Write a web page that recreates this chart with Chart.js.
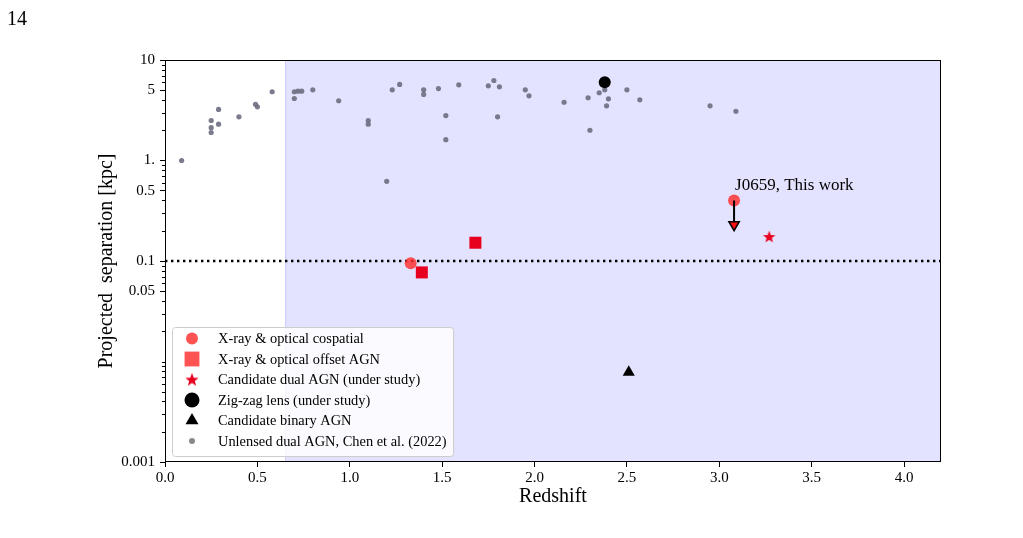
<!DOCTYPE html>
<html lang="en">
<head>
<meta charset="UTF-8">
<title>Projected separation vs redshift</title>
<style>
    body { margin: 0; background: #fff; }
    #wrap { position: relative; width: 1023px; height: 538px; }
    #wrap canvas { position: absolute; left: 0; top: 0; }
    #pageNo { position: absolute; left: 7px; top: 7px; font: 20px 'Liberation Serif', 'DejaVu Serif', serif; color: #000; }
</style>
</head>
<body>
<div id="wrap">
    <canvas id="myChart" width="1023" height="538"></canvas>
    <div id="pageNo">14</div>
</div>
<script src="https://cdn.jsdelivr.net/npm/chart.js"></script>
<script>
// Unlensed dual AGN (Chen et al. 2022)
var unlensedZ = [0.09, 0.25, 0.25, 0.25, 0.29, 0.29, 0.40, 0.49, 0.50, 0.58,
                 0.70, 0.72, 0.74, 0.70, 0.80, 0.94, 1.10, 1.10, 1.20, 1.23,
                 1.27, 1.40, 1.40, 1.48, 1.52, 1.52, 1.59, 1.75, 1.78, 1.81,
                 1.80, 1.95, 1.97, 2.16, 2.29, 2.30, 2.35, 2.38, 2.40, 2.39,
                 2.50, 2.57, 2.95, 3.09];
var unlensedSep = [1.0, 2.50, 2.12, 1.90, 3.22, 2.30, 2.72, 3.63, 3.42, 4.83,
                   4.83, 4.89, 4.89, 4.14, 5.05, 3.93, 2.50, 2.30, 0.62, 5.05,
                   5.71, 5.05, 4.54, 5.20, 2.80, 1.61, 5.66, 5.53, 6.25, 5.41,
                   2.72, 5.05, 4.40, 3.80, 4.21, 2.00, 4.72, 5.05, 4.11, 3.50,
                   5.05, 4.02, 3.50, 3.09];

var cospatialZ = [1.33, 3.08];
var cospatialSep = [0.095, 0.40];
var offsetZ = [1.39, 1.68];
var offsetSep = [0.077, 0.152];
var candidateZ = [3.27];
var candidateSep = [0.175];
var zigzagZ = [2.38];
var zigzagSep = [6.0];
var binaryZ = [2.51];
var binarySep = [0.0078];

// upper limit arrow for J0659
var limitZ = [3.08, 3.08];
var limitSep = [0.40, 0.25];
var limitHeadSep = [0.23];
var annotText = 'J0659, This work';
var annotZ = 3.08;
var annotSep = 0.56;

var thresholdSep = 0.1;
var lensedZmin = 0.65;

var xTickValues = [0, 0.5, 1.0, 1.5, 2.0, 2.5, 3.0, 3.5, 4.0];
var yTickValues = [10, 5, 1, 0.5, 0.1, 0.05, 0.001];
var yTickLabels = ['10', '5', '1.', '0.5', '0.1', '0.05', '0.001'];

var legendLabels = ['X-ray & optical cospatial', 'X-ray & optical offset AGN',
    'Candidate dual AGN (under study)', 'Zig-zag lens (under study)',
    'Candidate binary AGN', 'Unlensed dual AGN, Chen et al. (2022)'];

function pts(xs, ys) {
    return xs.map(function (x, i) { return {x: x, y: ys[i]}; });
}

function yLabel(v) {
    for (var i = 0; i < yTickValues.length; i++) {
        if (Math.abs(v / yTickValues[i] - 1) < 1e-6) return yTickLabels[i];
    }
    return '';
}

// filled five point star as a point image
function makeStar(r, color) {
    var c = document.createElement('canvas');
    var s = Math.ceil(r * 2 + 2);
    c.width = s; c.height = s;
    var g = c.getContext('2d');
    g.beginPath();
    for (var i = 0; i < 10; i++) {
        var rr = i % 2 === 0 ? r : r * 0.42;
        var a = -Math.PI / 2 + i * Math.PI / 5;
        g.lineTo(s / 2 + rr * Math.cos(a), s / 2 + 0.6 + rr * Math.sin(a));
    }
    g.closePath();
    g.fillStyle = color;
    g.fill();
    return c;
}

var RED = '#e8001f';
var LIGHT_RED = 'rgba(255, 45, 45, 0.82)';
var GRAY = 'rgba(112, 112, 132, 0.92)';
var serif = "'Liberation Serif', 'DejaVu Serif', serif";

Chart.defaults.font.family = serif;
Chart.defaults.color = '#000';

var shadePlugin = {
    id: 'shade',
    beforeDatasetsDraw: function (chart) {
        var ctx = chart.ctx, a = chart.chartArea;
        var x0 = chart.scales.x.getPixelForValue(lensedZmin);
        ctx.save();
        ctx.fillStyle = 'rgba(0, 0, 255, 0.11)';
        ctx.fillRect(x0, a.top, a.right - x0, a.bottom - a.top);
        ctx.strokeStyle = 'rgba(0, 0, 255, 0.12)';
        ctx.lineWidth = 1;
        ctx.beginPath();
        ctx.moveTo(x0 + 0.5, a.top);
        ctx.lineTo(x0 + 0.5, a.bottom);
        ctx.stroke();
        ctx.restore();
    },
    afterDatasetsDraw: function (chart) {
        var ctx = chart.ctx, a = chart.chartArea;
        var ys = chart.scales.y, xs = chart.scales.x;
        ctx.save();
        // frame
        ctx.strokeStyle = '#000';
        ctx.lineWidth = 1;
        ctx.strokeRect(a.left + 0.5, a.top + 0.5, a.right - a.left - 1, a.bottom - a.top - 1);
        // minor y ticks
        ys.ticks.forEach(function (t) {
            if (yLabel(t.value)) return;
            var py = Math.round(ys.getPixelForValue(t.value)) + 0.5;
            ctx.beginPath();
            ctx.moveTo(a.left, py);
            ctx.lineTo(a.left - 3, py);
            ctx.stroke();
        });
        // annotation
        ctx.fillStyle = '#000';
        ctx.font = '17px ' + serif;
        ctx.textBaseline = 'middle';
        ctx.textAlign = 'left';
        ctx.fillText(annotText, xs.getPixelForValue(annotZ) + 1, ys.getPixelForValue(annotSep));
        ctx.restore();
    }
};

var starPlot = makeStar(6.5, RED);
var starLegend = makeStar(7, RED);

var legendPlugin = {
    id: 'boxLegend',
    afterDraw: function (chart) {
        var ctx = chart.ctx;
        var H = Chart.helpers;
        var markers = [
            {pointStyle: 'circle', radius: 6, fill: LIGHT_RED},
            {pointStyle: 'rect', radius: 10.5, fill: LIGHT_RED},
            {pointStyle: starLegend, radius: 7, fill: RED},
            {pointStyle: 'circle', radius: 7.5, fill: '#000'},
            {pointStyle: 'triangle', radius: 7.5, fill: '#000'},
            {pointStyle: 'circle', radius: 3, fill: '#888'}
        ];
        var bx = 172, by = 327, bw = 281, bh = 129;
        ctx.save();
        ctx.beginPath();
        if (ctx.roundRect) ctx.roundRect(bx + 0.5, by + 0.5, bw, bh, 3);
        else ctx.rect(bx + 0.5, by + 0.5, bw, bh);
        ctx.fillStyle = 'rgba(255, 255, 255, 0.8)';
        ctx.fill();
        ctx.strokeStyle = '#cccccc';
        ctx.lineWidth = 1;
        ctx.stroke();
        ctx.font = '14.4px ' + serif;
        ctx.textBaseline = 'middle';
        ctx.textAlign = 'left';
        for (var i = 0; i < legendLabels.length; i++) {
            var yy = 338.5 + i * 20.5;
            var m = markers[i];
            ctx.fillStyle = m.fill;
            ctx.strokeStyle = m.fill;
            H.drawPoint(ctx, {pointStyle: m.pointStyle, radius: m.radius, rotation: 0, borderWidth: 0}, 192, yy);
            ctx.fillStyle = '#000';
            ctx.fillText(legendLabels[i], 218, yy + 1);
        }
        ctx.restore();
    }
};

var ctx = document.getElementById('myChart').getContext('2d');
var myChart = new Chart(ctx, {
    type: 'scatter',
    data: {
        datasets: [
            {
                label: 'threshold',
                data: [{x: 0, y: thresholdSep}, {x: 4.2, y: thresholdSep}],
                showLine: true,
                borderColor: '#000',
                borderWidth: 2.6,
                borderDash: [2.4, 3.6],
                pointRadius: 0,
                order: 9
            },
            {
                label: legendLabels[5],
                data: pts(unlensedZ, unlensedSep),
                backgroundColor: GRAY,
                borderWidth: 0,
                pointRadius: 2.6,
                order: 8
            },
            {
                label: 'limit',
                data: pts(limitZ, limitSep),
                showLine: true,
                borderColor: '#000',
                borderWidth: 2,
                pointRadius: 0,
                order: 3
            },
            {
                label: 'limit head',
                data: pts([limitZ[0]], limitHeadSep),
                pointStyle: 'triangle',
                rotation: 180,
                backgroundColor: '#ff1010',
                borderColor: '#000',
                borderWidth: 1.5,
                pointRadius: 6,
                order: 2
            },
            {
                label: legendLabels[0],
                data: pts(cospatialZ, cospatialSep),
                backgroundColor: LIGHT_RED,
                borderWidth: 0,
                pointRadius: 6,
                order: 4
            },
            {
                label: legendLabels[1],
                data: pts(offsetZ, offsetSep),
                pointStyle: 'rect',
                backgroundColor: RED,
                borderWidth: 0,
                pointRadius: 8.5,
                order: 5
            },
            {
                label: legendLabels[2],
                data: pts(candidateZ, candidateSep),
                pointStyle: starPlot,
                pointRadius: 6.5,
                order: 5
            },
            {
                label: legendLabels[3],
                data: pts(zigzagZ, zigzagSep),
                backgroundColor: '#000',
                borderWidth: 0,
                pointRadius: 6,
                order: 1
            },
            {
                label: legendLabels[4],
                data: pts(binaryZ, binarySep),
                pointStyle: 'triangle',
                backgroundColor: '#000',
                borderWidth: 0,
                pointRadius: 7,
                order: 1
            }
        ]
    },
    options: {
        responsive: false,
        animation: false,
        events: [],
        layout: {padding: {left: 95, right: 82, top: 60, bottom: 28}},
        plugins: {
            legend: {display: false},
            tooltip: {enabled: false}
        },
        scales: {
            x: {
                type: 'linear',
                min: 0,
                max: 4.2,
                afterBuildTicks: function (scale) {
                    scale.ticks = xTickValues.map(function (v) { return {value: v}; });
                },
                afterFit: function (scale) { scale.height = 48; },
                ticks: {
                    autoSkip: false,
                    maxRotation: 0,
                    padding: 2,
                    font: {size: 15},
                    callback: function (v) { return Number(v).toFixed(1); }
                },
                grid: {drawOnChartArea: false, tickLength: 5, color: '#000', tickColor: '#000'},
                border: {display: false},
                title: {display: true, text: 'Redshift', font: {size: 20}, padding: {top: 0, bottom: 1}}
            },
            y: {
                type: 'logarithmic',
                min: 0.001,
                max: 10,
                afterBuildTicks: function (scale) {
                    var t = [];
                    for (var e = -3; e <= 1; e++) {
                        for (var m = 1; m <= 9; m++) {
                            var v = Number((m * Math.pow(10, e)).toPrecision(6));
                            if (v <= 10) t.push({value: v});
                        }
                    }
                    scale.ticks = t;
                },
                afterFit: function (scale) { scale.width = 70; },
                ticks: {
                    autoSkip: false,
                    padding: 5,
                    font: {size: 15},
                    callback: function (v) { return yLabel(v); }
                },
                grid: {
                    drawOnChartArea: false,
                    tickLength: 5,
                    tickColor: function (c) { return yLabel(c.tick.value) ? '#000' : 'rgba(0,0,0,0)'; }
                },
                border: {display: false},
                title: {display: true, text: 'Projected  separation [kpc]', font: {size: 20}, padding: {top: 0, bottom: 0}}
            }
        }
    },
    plugins: [shadePlugin, legendPlugin]
});
</script>
</body>
</html>
